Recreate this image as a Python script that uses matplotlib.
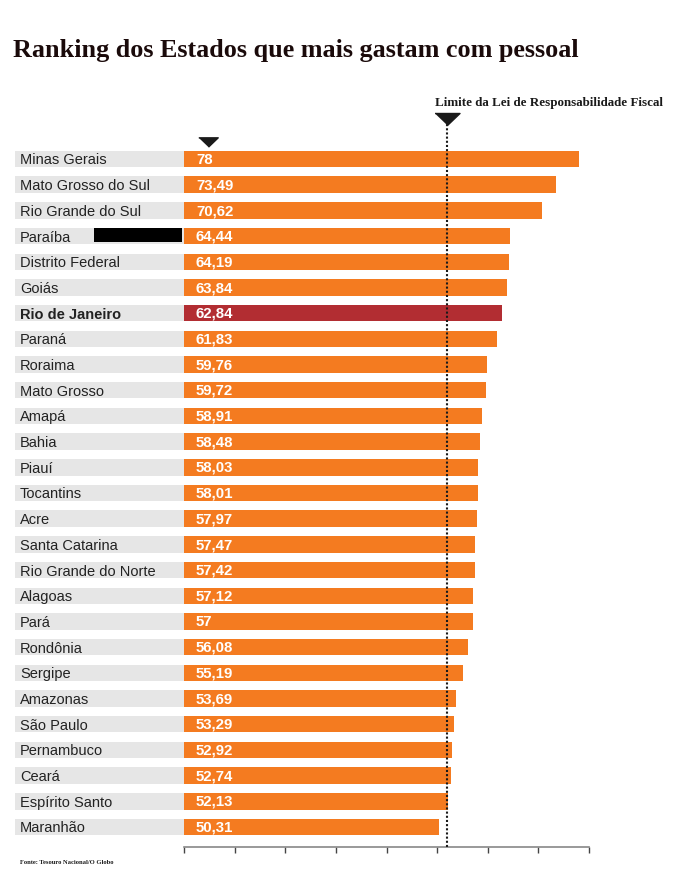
import matplotlib
matplotlib.use("Agg")
import matplotlib.pyplot as plt

# ---- data ----
states = ["Minas Gerais", "Mato Grosso do Sul", "Rio Grande do Sul", "Paraíba",
          "Distrito Federal", "Goiás", "Rio de Janeiro", "Paraná", "Roraima",
          "Mato Grosso", "Amapá", "Bahia", "Piauí", "Tocantins", "Acre",
          "Santa Catarina", "Rio Grande do Norte", "Alagoas", "Pará", "Rondônia",
          "Sergipe", "Amazonas", "São Paulo", "Pernambuco", "Ceará",
          "Espírito Santo", "Maranhão"]
values = [78, 73.49, 70.62, 64.44, 64.19, 63.84, 62.84, 61.83, 59.76, 59.72,
          58.91, 58.48, 58.03, 58.01, 57.97, 57.47, 57.42, 57.12, 57, 56.08,
          55.19, 53.69, 53.29, 52.92, 52.74, 52.13, 50.31]
highlight = "Rio de Janeiro"
redacted = "Paraíba"
limit_value = 51.9
x_ticks = list(range(0, 81, 10))

title = "Ranking dos Estados que mais gastam com pessoal"
limit_label = "Limite da Lei de Responsabilidade Fiscal"
source = "Fonte: Tesouro Nacional/O Globo"

# ---- style ----
ORANGE = "#F47B20"
RED = "#B22D32"
GRAY = "#E6E6E6"
TXT = "#222222"
W, H = 700, 890

fig = plt.figure(figsize=(W / 100, H / 100), dpi=100)
fig.patch.set_facecolor("white")

ax_left, ax_right = 184, 589
ax_top, ax_bottom = 123, 846.7
row0, rowN = 159, 827
n = len(states)
s = (rowN - row0) / (n - 1)
ax = fig.add_axes([ax_left / W, 1 - ax_bottom / H,
                   (ax_right - ax_left) / W, (ax_bottom - ax_top) / H])
ax.set_xlim(0, 80)
ax.set_ylim((n - 1) + (ax_bottom - rowN) / s, -(row0 - ax_top) / s)
ppu = (ax_right - ax_left) / 80.0  # pixels per unit

ys = list(range(n))
bar_h = 0.64
label_w = (ax_left - 15) / ppu

# gray label bands
ax.barh(ys, [label_w] * n, left=-label_w, height=bar_h, color=GRAY,
        clip_on=False, zorder=1)
# bars
colors = [RED if st == highlight else ORANGE for st in states]
ax.barh(ys, values, height=bar_h, color=colors, zorder=2, clip_on=False)

for y, st, v in zip(ys, states, values):
    ax.text(-(ax_left - 20) / ppu, y, st, ha="left", va="center_baseline",
            fontsize=10.5, color=TXT, family="Liberation Sans",
            fontweight="bold" if st == highlight else "normal", clip_on=False)
    lbl = f"{v:g}".replace(".", ",")
    ax.annotate(lbl, (0, y), xytext=(12 * 0.72, 0.6), textcoords="offset points",
                ha="left", va="center_baseline", fontsize=10.8, color="white",
                fontweight="bold", family="Liberation Sans", zorder=4)

# redaction box on Paraíba
ri = states.index(redacted)
ax.barh([ri - 0.05], [(182 - 94) / ppu], left=-(184 - 94) / ppu, height=0.53,
        color="black", clip_on=False, zorder=3)

# limit line
ax.axvline(limit_value, color="#1a1a1a", linestyle=(0, (1, 1)), linewidth=1.5,
           zorder=5)
tri_big = [(-1, 0.48), (1, 0.48), (0, -0.48)]
ax.plot([limit_value], [-(row0 - 119) / s], marker=tri_big, markersize=18,
        color="#1a1a1a", clip_on=False, zorder=6, linestyle="none")
ax.plot([(208 - ax_left) / ppu], [-(row0 - 142) / s], marker=tri_big,
        markersize=14, color="#1a1a1a", clip_on=False, zorder=6,
        linestyle="none")

# axes styling
for sp in ["top", "right", "left"]:
    ax.spines[sp].set_visible(False)
ax.spines["bottom"].set_color("#888888")
ax.spines["bottom"].set_linewidth(1.2)
ax.set_xticks(x_ticks)
ax.set_xticklabels([])
ax.set_yticks([])
ax.tick_params(axis="x", direction="out", length=4.5, width=1, color="#444444")
ax.set_facecolor("none")

# texts
fig.text(13 / W, 1 - 57 / H, title, ha="left", va="baseline", fontsize=18.8,
         family="Liberation Serif", fontweight="bold", color="#1a0a0a")
fig.text(435 / W, 1 - 103 / H, limit_label, ha="left", va="center",
         fontsize=9.4, family="Liberation Serif", fontweight="bold",
         color="#1a1a1a")
fig.text(20 / W, 1 - 863 / H, source, ha="left", va="center", fontsize=4.7,
         family="Liberation Serif", fontweight="bold", color="#1a1a1a")

fig.savefig("out.png", dpi=100, facecolor="white")
